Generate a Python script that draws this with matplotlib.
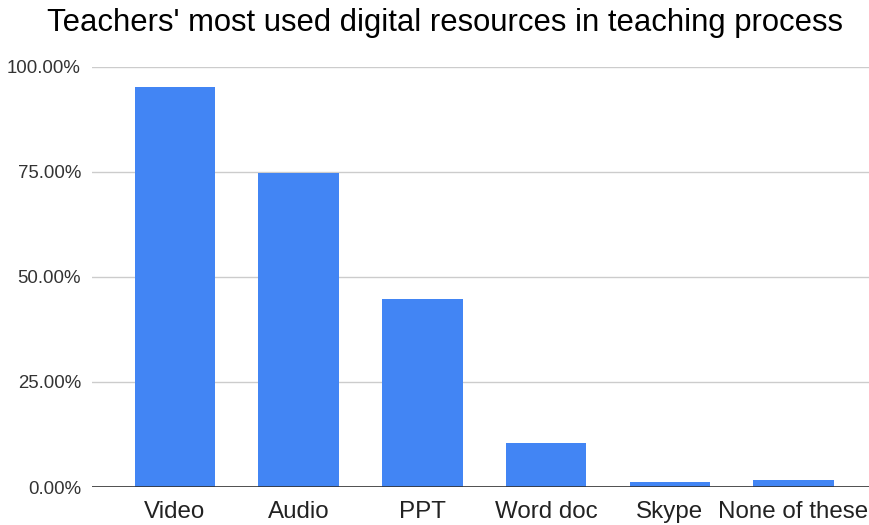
import matplotlib
matplotlib.use("Agg")
import matplotlib.pyplot as plt
import numpy as np

# values
categories = ["Video", "Audio", "PPT", "Word doc", "Skype", "None of these"]
percent = [95.2, 74.8, 44.8, 10.5, 1.2, 1.7]
y_ticks = [0, 25, 50, 75, 100]

BAR_COLOR = "#4285F4"

plt.rcParams["font.family"] = ["Liberation Sans", "DejaVu Sans"]

fig = plt.figure(figsize=(8.69, 5.25), dpi=100)
ax = fig.add_axes([92 / 869, 38 / 525, 777 / 869, 420 / 525])

x = np.arange(len(categories))
ax.bar(x, percent, width=0.65, color=BAR_COLOR, zorder=3)

ax.set_xlim(-0.67, 5.61)
ax.set_ylim(0, 100)
ax.set_yticks(y_ticks)
ax.set_yticklabels([f"{v:.2f}%" for v in y_ticks], fontsize=13.4, color="#333333")
ax.set_xticks(x)
ax.set_xticklabels(categories, fontsize=17.4, color="#222222")

ax.grid(axis="y", color="#cccccc", linewidth=1, zorder=0)
ax.axhline(0, color="#333333", linewidth=1.2, zorder=4)
for s in ax.spines.values():
    s.set_visible(False)
ax.tick_params(axis="both", length=0)
ax.tick_params(axis="y", pad=8)
ax.tick_params(axis="x", pad=10)

fig.text(445 / 869, 1 - 23 / 525, "Teachers' most used digital resources in teaching process",
         ha="center", va="center", fontsize=22.3, color="#000000")

fig.savefig("out.png", dpi=100)
